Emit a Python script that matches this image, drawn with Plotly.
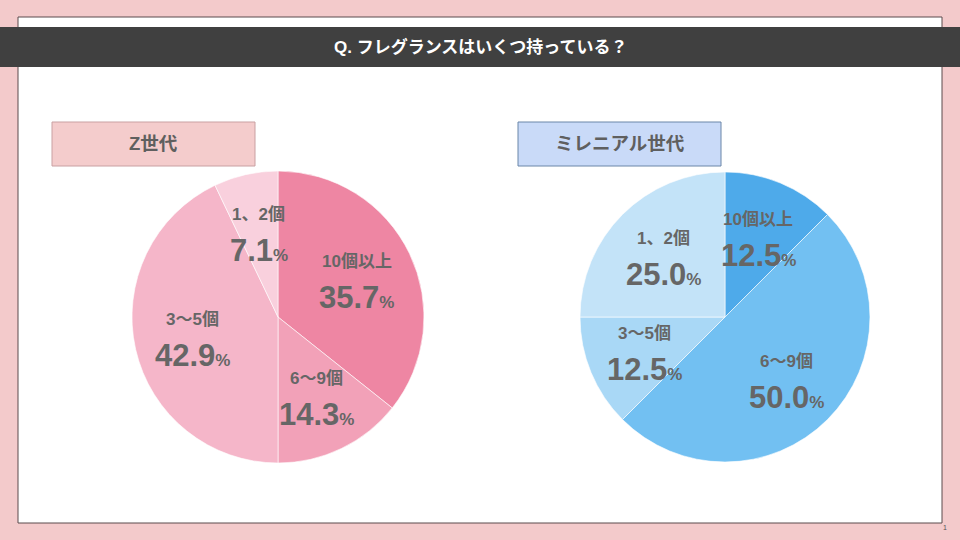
import math
import plotly.graph_objects as go

W, H = 960, 540

title = "Q. フレグランスはいくつ持っている？"
groups = ["Z世代", "ミレニアル世代"]
labels = ["10個以上", "6～9個", "3～5個", "1、2個"]
z_values = [35.7, 14.3, 42.9, 7.1]
m_values = [12.5, 50.0, 12.5, 25.0]

pink = ["#ee86a3", "#f2a1b8", "#f5b6c9", "#f9d0dd"]
blue = ["#4eaaea", "#72c0f2", "#a9d8f6", "#c3e3f8"]

TXT = "#666666"
FONT = "Liberation Sans, Noto Sans CJK JP, sans-serif"


def px(x):
    return x / W


def py(y):
    return 1 - y / H


def note(x, y, text, size, color=TXT, yshift=0):
    return dict(x=px(x), y=py(y), xref="paper", yref="paper", showarrow=False,
                xanchor="center", yanchor="middle", yshift=yshift, text=text,
                font=dict(family=FONT, size=size, color=color))


# pie centres / radius in pixels
pies = [
    dict(cx=278, cy=317, r=146, values=z_values, colors=pink),
    dict(cx=725, cy=317, r=145, values=m_values, colors=blue),
]

fig = go.Figure()
annotations = []

for p in pies:
    fig.add_trace(go.Pie(
        labels=labels, values=p["values"], sort=False, direction="clockwise",
        rotation=0, textinfo="none", hoverinfo="label+percent",
        marker=dict(colors=p["colors"], line=dict(color="rgba(255,255,255,0.6)", width=1)),
        domain=dict(x=[px(p["cx"] - p["r"]), px(p["cx"] + p["r"])],
                    y=[py(p["cy"] + p["r"]), py(p["cy"] - p["r"])]),
        showlegend=False,
    ))
    total = sum(p["values"])
    cum = 0
    for lab, v in zip(labels, p["values"]):
        th = math.radians((cum + v / 2) / total * 360)
        cum += v
        rr = p["r"] * 0.6
        x = p["cx"] + rr * math.sin(th)
        y = p["cy"] - rr * math.cos(th)
        annotations.append(note(x, y, f"<b>{lab}</b>", 17, yshift=17))
        annotations.append(note(
            x, y, f"<b>{v:.1f}</b><b><span style='font-size:17px'>%</span></b>", 31, yshift=-19))

shapes = [
    # white panel
    dict(type="rect", xref="paper", yref="paper", x0=px(18), x1=px(942), y0=py(523), y1=py(17),
         fillcolor="white", line=dict(color="#5a4a4c", width=1), layer="below"),
    # title bar
    dict(type="rect", xref="paper", yref="paper", x0=0, x1=1, y0=py(67), y1=py(27),
         fillcolor="#404040", line=dict(width=0), layer="below"),
    # group label boxes
    dict(type="rect", xref="paper", yref="paper", x0=px(52), x1=px(255), y0=py(166), y1=py(122),
         fillcolor="#f4cccc", line=dict(color="#c9a0a2", width=1), layer="below"),
    dict(type="rect", xref="paper", yref="paper", x0=px(518), x1=px(721), y0=py(166), y1=py(122),
         fillcolor="#c9daf8", line=dict(color="#6b86a8", width=1), layer="below"),
]

annotations += [
    note(480, 47, f"<b>{title}</b>", 17, "white"),
    note(153.5, 144, f"<b>{groups[0]}</b>", 18.5, "#5f5f5f"),
    note(619.5, 144, f"<b>{groups[1]}</b>", 18.5, "#5f5f5f"),
    note(945, 527, "1", 7, "#555555"),
]

fig.update_layout(
    width=W, height=H, margin=dict(l=0, r=0, t=0, b=0),
    paper_bgcolor="#f3cacb", plot_bgcolor="#f3cacb",
    shapes=shapes, annotations=annotations,
)

fig.write_html("out.html", config={"displayModeBar": False},
               post_script="document.body.style.margin='0px';")
